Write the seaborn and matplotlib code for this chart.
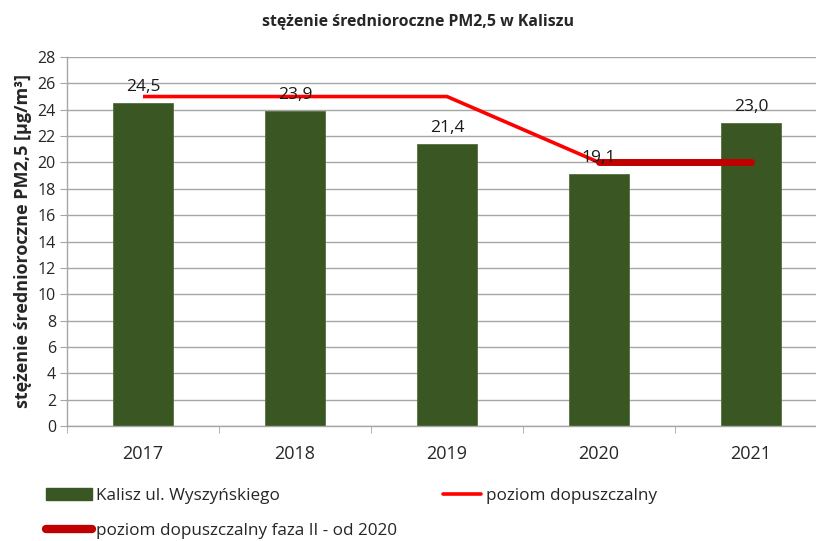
import matplotlib
matplotlib.use("Agg")
import matplotlib.pyplot as plt
import seaborn as sns
import pandas as pd
from matplotlib.lines import Line2D
from matplotlib.patches import Patch

years = ["2017", "2018", "2019", "2020", "2021"]
values = [24.5, 23.9, 21.4, 19.1, 23.0]
limit_pos = [0, 1, 2, 3]
limit_vals = [25, 25, 25, 20]
phase2_pos = [3, 4]
phase2_vals = [20, 20]
yticks = list(range(0, 29, 2))

title = "stężenie średnioroczne PM2,5 w Kaliszu"
ylabel = "stężenie średnioroczne PM2,5 [µg/m³]"
leg_bar = "Kalisz ul. Wyszyńskiego"
leg_limit = "poziom dopuszczalny"
leg_phase2 = "poziom dopuszczalny faza II - od 2020"

sns.set_style("white")
plt.rcParams["font.family"] = ["Open Sans", "DejaVu Sans"]

BAR = "#3A5723"
RED = "#FF0000"
DRED = "#C00000"
GRID = "#A6A6A6"

fig = plt.figure(figsize=(8.16, 5.41), dpi=100)
ax = fig.add_axes([67 / 816, 115 / 541, 760 / 816, 369 / 541])

df = pd.DataFrame({"year": years, "value": values})
sns.barplot(data=df, x="year", y="value", color=BAR, width=0.4,
            saturation=1, edgecolor="#55703F", linewidth=0.6, ax=ax, zorder=2)

sns.lineplot(x=limit_pos, y=limit_vals, color=RED, linewidth=2.6, ax=ax,
             zorder=3, solid_capstyle="butt")
sns.lineplot(x=phase2_pos, y=phase2_vals, color=DRED, linewidth=5.0, ax=ax,
             zorder=4, solid_capstyle="round")

for i, v in enumerate(values):
    ax.annotate(f"{v:.1f}".replace(".", ","), (i, v), xytext=(0, 6),
                textcoords="offset points", ha="center", va="bottom",
                fontsize=12.5, color="#1a1a1a", zorder=5)

ax.set_xlim(-0.5, 4.5)
ax.set_ylim(0, 28)
ax.set_yticks(yticks)
ax.set_yticklabels([str(t) for t in yticks], fontsize=11.5)
ax.yaxis.grid(True, color=GRID, linewidth=1.0, zorder=0)
ax.set_axisbelow(True)
ax.tick_params(axis="y", direction="out", length=5, color=GRID, left=True, pad=3)
ax.set_xticks(range(len(years)))
ax.set_xticklabels(years, fontsize=13)
ax.set_xticks([i + 0.5 for i in range(-1, len(years))], minor=True)
ax.tick_params(axis="x", which="major", length=0, pad=14)
ax.tick_params(axis="x", which="minor", direction="out", length=5, color=GRID, bottom=True)
for s in ["top", "right"]:
    ax.spines[s].set_visible(False)
for s in ["left", "bottom"]:
    ax.spines[s].set_color(GRID)
    ax.spines[s].set_linewidth(1.0)
ax.set_xlabel("")
ax.set_ylabel(ylabel, fontsize=13, fontweight="bold", labelpad=4)

fig.text(418 / 816, 1 - 22 / 541, title, ha="center", va="center",
         fontsize=11.4, fontweight="bold")

h_bar = Patch(facecolor=BAR, edgecolor=BAR)
h_red = Line2D([], [], color=RED, linewidth=2.6)
h_dred = Line2D([], [], color=DRED, linewidth=6.0, solid_capstyle="round")

leg1 = fig.legend([h_bar, h_dred], [leg_bar, leg_phase2], loc="upper left",
                  bbox_to_anchor=(46 / 816, 1 - 488 / 541), frameon=False,
                  fontsize=12.3, handlelength=2.7, handletextpad=0.2,
                  labelspacing=1.1, borderaxespad=0, borderpad=0)
leg2 = fig.legend([h_red], [leg_limit], loc="upper left",
                  bbox_to_anchor=(443 / 816, 1 - 488 / 541), frameon=False,
                  fontsize=12.3, handlelength=2.2, handletextpad=0.3,
                  borderaxespad=0, borderpad=0)

fig.savefig("out.png", dpi=100)
